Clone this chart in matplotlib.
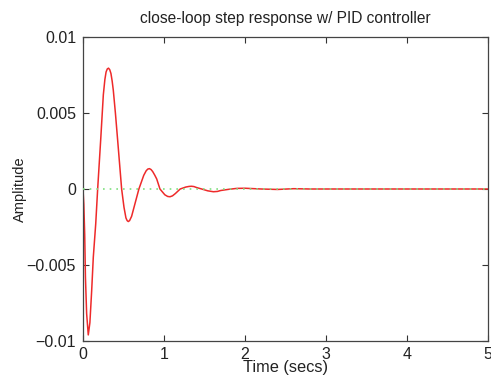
import matplotlib
matplotlib.use("Agg")
import matplotlib.pyplot as plt

# Data
time_s = [0.0, 0.010, 0.021, 0.030, 0.045, 0.065, 0.085, 0.107, 0.127, 0.157,
          0.181, 0.218, 0.251, 0.270, 0.285, 0.300, 0.315, 0.330, 0.345, 0.360,
          0.374, 0.400, 0.428, 0.477, 0.506, 0.530, 0.545, 0.559, 0.575, 0.600,
          0.630, 0.690, 0.750, 0.780, 0.800, 0.820, 0.840, 0.860, 0.885, 0.910,
          0.950, 1.010, 1.045, 1.074, 1.105, 1.140, 1.200, 1.270, 1.310, 1.340,
          1.370, 1.400, 1.465, 1.540, 1.610, 1.660, 1.700, 1.800, 1.900, 2.000,
          2.200, 2.400, 2.600, 2.800, 3.000, 3.500, 4.000, 4.500, 5.0]
amplitude = [0.0, -0.0010, -0.0030, -0.0058, -0.0082, -0.0096, -0.0088, -0.0067,
             -0.0045, -0.0023, 0.0, 0.0032, 0.0062, 0.0072, 0.0077, 0.00790, 0.00795,
             0.00785, 0.0076, 0.0071, 0.0065, 0.0050, 0.0032, 0.0, -0.0012, -0.0019,
             -0.00208, -0.00214, -0.00208, -0.0018, -0.0012, 0.0, 0.00090, 0.00120,
             0.00131, 0.00134, 0.00128, 0.00115, 0.00092, 0.00066, 0.0, -0.00038,
             -0.00049, -0.00051, -0.00045, -0.00030, 0.0, 0.00013, 0.00017, 0.00018,
             0.00016, 0.00010, 0.0, -0.00012, -0.00018, -0.00016, -0.00010, -0.00002,
             0.00004, 0.00005, 0.00000, -0.00003, 0.00002, 0.0, 0.0, 0.0, 0.0, 0.0, 0.0]

reference_level = 0.0
x_ticks = [0, 1, 2, 3, 4, 5]
y_ticks = [-0.01, -0.005, 0, 0.005, 0.01]
y_tick_labels = ["\u22120.01", "\u22120.005", "0", "0.005", "0.01"]

title_text = "close-loop step response w/ PID controller"
x_label = "Time (secs)"
y_label = "Amplitude"

plt.rcParams["font.family"] = ["Liberation Sans", "DejaVu Sans"]

fig = plt.figure(figsize=(4.91, 3.76), dpi=100)
ax = fig.add_axes([83 / 491, 1 - 341 / 376, 405 / 491, 304 / 376])

ax.plot(time_s, amplitude, color="#ee2a2a", lw=1.1, zorder=2)
ax.axhline(reference_level, color="#7fe07f", lw=1.2, ls=(0, (1, 3)), zorder=3)

ax.set_xlim(0, 5)
ax.set_ylim(-0.01, 0.01)
ax.set_xticks(x_ticks)
ax.set_xticklabels([str(v) for v in x_ticks])
ax.set_yticks(y_ticks)
ax.set_yticklabels(y_tick_labels)

ax.tick_params(direction="in", length=4, width=0.8, colors="#333333",
               top=True, right=True, labelsize=11.5, labelcolor="#222222")
ax.tick_params(axis="y", pad=5)
ax.tick_params(axis="x", pad=4)
for sp in ax.spines.values():
    sp.set_color("#444444")
    sp.set_linewidth(0.9)

ax.set_title(title_text, fontsize=11.2, color="#222222", pad=10)
ax.set_xlabel(x_label, fontsize=11.8, color="#222222", labelpad=-1)
ax.set_ylabel(y_label, fontsize=10.5, color="#222222", va="center")
ax.yaxis.set_label_coords(-0.155, 0.5)

fig.savefig("out.png", dpi=100)
